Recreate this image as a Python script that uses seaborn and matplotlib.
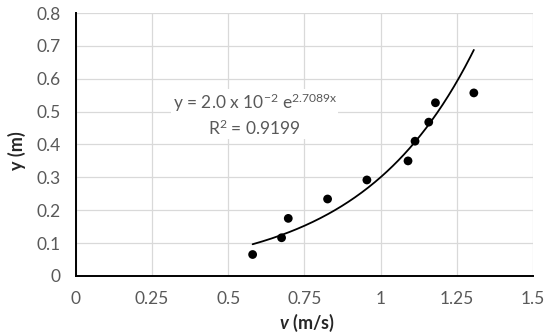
import numpy as np
import matplotlib
matplotlib.use("Agg")
import matplotlib.pyplot as plt
import pandas as pd
import seaborn as sns

# dades llegides del gràfic
v_ms = [0.58, 0.675, 0.697, 0.826, 0.955, 1.09, 1.113, 1.158, 1.18, 1.306]
y_m = [0.065, 0.116, 0.175, 0.234, 0.292, 0.350, 0.410, 0.468, 0.527, 0.557]

# línia de tendència exponencial (coeficients de l'equació mostrada)
fit_a = 2.0e-2
fit_b = 2.7089
fit_label = r"y = 2.0 x 10$^{-2}$ e$^{2.7089x}$" + "\n" + r"R$^2$ = 0.9199"

x_ticks = [0, 0.25, 0.5, 0.75, 1, 1.25, 1.5]
x_ticklabels = ["0", "0.25", "0.5", "0.75", "1", "1.25", "1.5"]
y_ticks = [0, 0.1, 0.2, 0.3, 0.4, 0.5, 0.6, 0.7, 0.8]
y_ticklabels = ["0", "0.1", "0.2", "0.3", "0.4", "0.5", "0.6", "0.7", "0.8"]

sns.set_style("whitegrid")
plt.rcParams["font.family"] = ["Lato", "DejaVu Sans"]
plt.rcParams["mathtext.fontset"] = "custom"
plt.rcParams["mathtext.rm"] = "Lato"
plt.rcParams["mathtext.bfit"] = "Lato:italic:bold"
plt.rcParams["mathtext.default"] = "regular"

df = pd.DataFrame({"v": v_ms, "y": y_m})
x_fit = np.linspace(min(v_ms), max(v_ms), 200)
df_fit = pd.DataFrame({"v": x_fit, "y": fit_a * np.exp(fit_b * x_fit)})

fig = plt.figure(figsize=(5.5, 3.36), dpi=100)
ax = fig.add_axes([0.138, 0.179, 0.831, 0.782])

sns.lineplot(data=df_fit, x="v", y="y", color="black", linewidth=1.3, ax=ax)
sns.scatterplot(data=df, x="v", y="y", color="black", s=40, edgecolor="none", ax=ax, zorder=3)

ax.set_xlim(0, 1.5)
ax.set_ylim(0, 0.8)
ax.set_xticks(x_ticks)
ax.set_xticklabels(x_ticklabels)
ax.set_yticks(y_ticks)
ax.set_yticklabels(y_ticklabels)
ax.tick_params(axis="both", length=0, labelsize=12.5, labelcolor="#595959")
ax.tick_params(axis="y", pad=11)
ax.tick_params(axis="x", pad=11)
ax.grid(True, color="#d9d9d9", linewidth=0.9)

for s in ["top", "right"]:
    ax.spines[s].set_visible(False)
for s in ["left", "bottom"]:
    ax.spines[s].set_color("black")
    ax.spines[s].set_linewidth(1.4)

ax.set_xlabel("")
ax.set_ylabel("")
fig.text(0.558, 0.04, r"$\mathbfit{v}$ (m/s)", ha="center", va="center",
         fontsize=13, fontweight="bold")
fig.text(0.031, 0.553, "y (m)", ha="center", va="center", rotation=90,
         fontsize=13, fontweight="bold")

ax.text(0.587, 0.49, fit_label, ha="center", va="center", fontsize=12.5,
        color="#595959", linespacing=1.25,
        bbox=dict(facecolor="white", edgecolor="none", pad=1))

fig.savefig("out.png", dpi=100)
